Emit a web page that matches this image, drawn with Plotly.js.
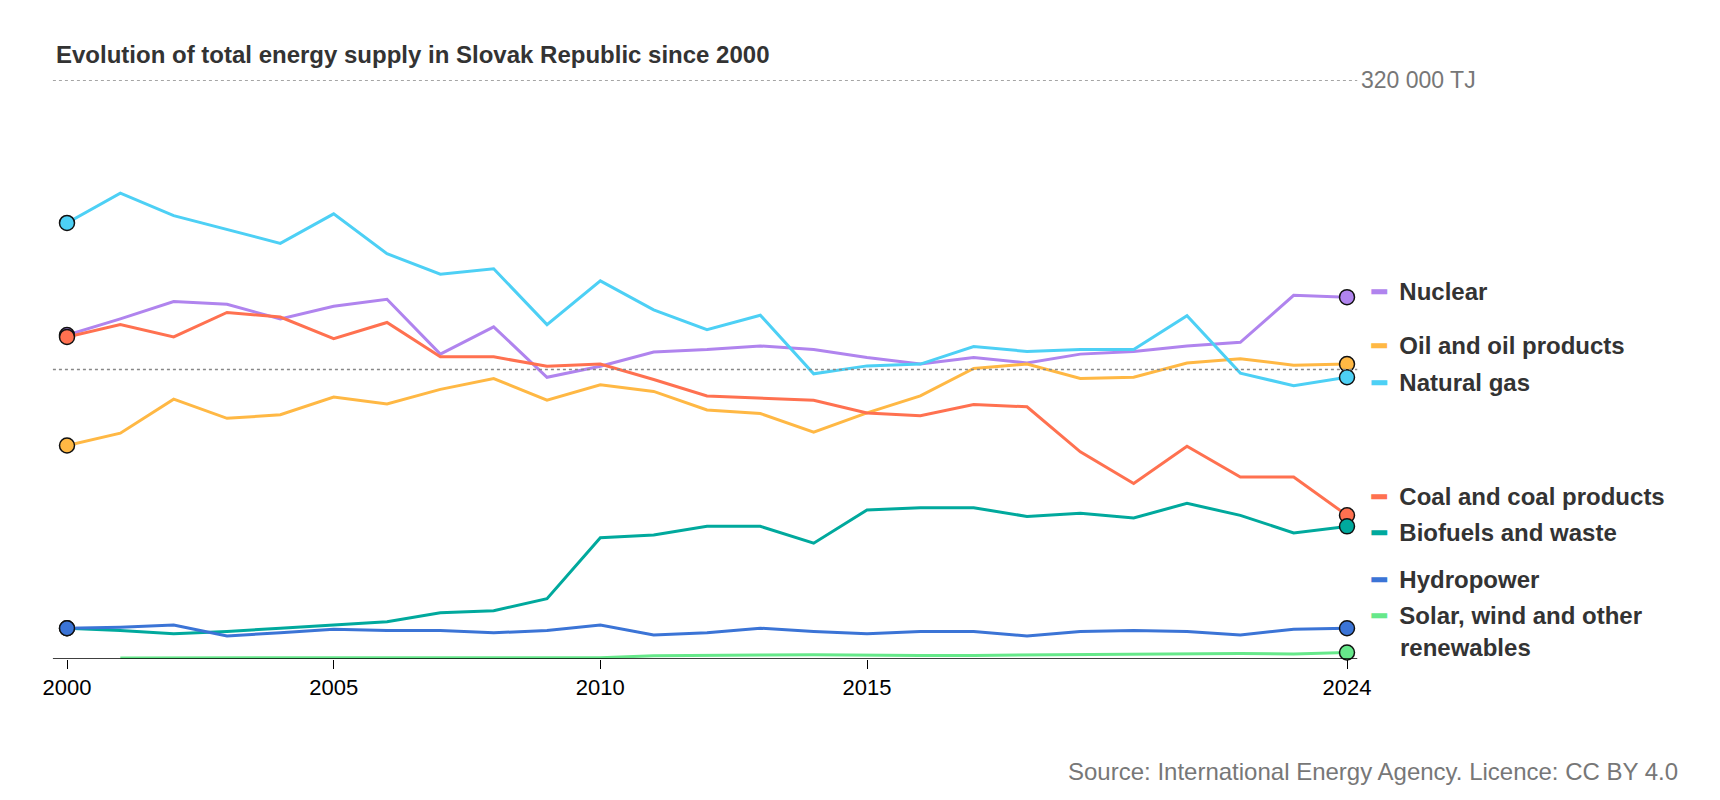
<!DOCTYPE html>
<html>
<head>
<meta charset="utf-8">
<script src="https://cdn.plot.ly/plotly-3.0.1.min.js"></script>
<style>body{margin:0;background:#fff}#chart{width:1720px;height:800px}</style>
</head>
<body>
<div id="chart"></div>
<script>
// Years
var years = [];
for (var y = 2000; y <= 2024; y++) years.push(y);

// Series values (TJ)
var nuclear = [179000,188000,197600,196000,188000,195000,198800,168500,183600,155700,161800,169700,171000,173000,171000,166600,163000,166600,163600,168500,170000,173000,175000,201000,200000];
var oil     = [118000,124800,143600,133000,135000,144800,141000,149000,155000,143000,151500,147900,137600,135700,125400,136000,145400,160600,163000,155000,155700,163600,166000,162400,163000];
var gas     = [241000,257500,245000,237500,229700,246000,224000,212700,215700,184800,209000,193000,182000,190000,157600,162000,163000,172700,170000,171000,171000,189700,158000,151000,155700];
var coal    = [178000,184800,178000,191500,189000,177000,186000,167000,167000,161800,163000,154500,145400,144000,143000,136000,134500,140600,139400,114500,97000,117600,100600,100600,79400];
var biofuel = [17000,15800,14000,15200,17000,18800,20600,25500,26700,33300,67000,68500,73300,73300,64000,82400,83600,83600,78800,80600,78000,86000,79400,69700,73300];
var hydro   = [17000,17600,18800,12700,14500,16400,15800,15800,14500,15800,18800,13300,14500,17000,15200,14000,15200,15200,12700,15200,15800,15200,13300,16400,17000];
var solar   = [null,600,600,600,600,600,600,600,600,600,700,1800,1800,2200,2400,2000,2000,2000,2200,2600,3000,2800,3000,2800,3600];

var series = [
    {name: 'Nuclear', y: nuclear, color: '#b084ee', labelY: 203000},
    {name: 'Oil and oil products', y: oil, color: '#ffb844', labelY: 173000},
    {name: 'Natural gas', y: gas, color: '#4dd0f5', labelY: 153000},
    {name: 'Coal and coal products', y: coal, color: '#ff7150', labelY: 90000},
    {name: 'Biofuels and waste', y: biofuel, color: '#00a99d', labelY: 70000},
    {name: 'Hydropower', y: hydro, color: '#3b74d6', labelY: 44000},
    {name: 'Solar, wind and other', y: solar, color: '#66e88a', labelY: 24000}
];

var labelFont = {family: 'Liberation Sans, Arial', size: 24, color: '#333'};
var data = [];
var annotations = [];
series.forEach(function(s) {
    var sizes = s.y.map(function(v, i) { return (i === 0 || i === s.y.length - 1) ? 15 : 0; });
    data.push({
        x: years, y: s.y, type: 'scatter', mode: 'lines+markers', cliponaxis: false,
        line: {color: s.color, width: 3},
        marker: {size: sizes, color: s.color, opacity: 1, line: {color: '#111', width: 1.5}},
        hoverinfo: 'skip', showlegend: false
    });
    annotations.push({
        x: 1, xref: 'paper', xshift: 22, y: s.labelY, yref: 'y', xanchor: 'left', yanchor: 'middle',
        showarrow: false, align: 'left',
        text: '<span style="color:' + s.color + '"><b>━</b></span>  <b>' + s.name + '</b>',
        font: labelFont
    });
});
// Second line of the renewables label
annotations.push({x: 1, xref: 'paper', xshift: 51, y: 6500, yref: 'y', xanchor: 'left', yanchor: 'middle',
    showarrow: false, text: '<b>renewables</b>', font: labelFont});

// Gridline label
annotations.push({x: 1, xref: 'paper', xshift: 12, y: 320000, yref: 'y', xanchor: 'left', yanchor: 'middle', showarrow: false,
    text: '320 000 TJ', font: {family: 'Liberation Sans, Arial', size: 23, color: '#777'}});

// Source
annotations.push({xref: 'paper', yref: 'paper', x: (1680 - 67) / (1720 - 67 - 373), xanchor: 'right',
    y: -(771 - 659) / (659 - 80), yanchor: 'middle', showarrow: false,
    text: 'Source: International Energy Agency. Licence: CC BY 4.0', font: {family: 'Liberation Sans, Arial', size: 24, color: '#777'}});

var layout = {
    width: 1720, height: 800,
    margin: {l: 67, r: 373, t: 80, b: 141},
    paper_bgcolor: '#fff', plot_bgcolor: '#fff',
    font: {family: 'Liberation Sans, Arial', color: '#000'},
    title: {text: '<b>Evolution of total energy supply in Slovak Republic since 2000</b>', x: 56 / 1720, xanchor: 'left', y: 1 - 55 / 800, yanchor: 'middle',
            font: {size: 24, color: '#333'}},
    xaxis: {range: [2000, 2024], tickvals: [2000, 2005, 2010, 2015, 2024], ticks: 'outside', ticklen: 9, tickcolor: '#000',
            showgrid: false, zeroline: false, showline: false, tickfont: {size: 22, color: '#000'}},
    yaxis: {range: [0, 320000], showgrid: false, zeroline: false, showticklabels: false, fixedrange: true},
    shapes: [
        {type: 'line', xref: 'paper', x0: -0.011, x1: 1.008, yref: 'y', y0: 320000, y1: 320000, line: {color: '#888', width: 1.3, dash: 'dot'}},
        {type: 'line', xref: 'paper', x0: -0.011, x1: 1.008, yref: 'y', y0: 160000, y1: 160000, line: {color: '#888', width: 1.3, dash: 'dot'}},
        {type: 'line', xref: 'paper', x0: -0.011, x1: 1.008, yref: 'y', y0: 0, y1: 0, line: {color: '#000', width: 1.5}}
    ],
    annotations: annotations
};

Plotly.newPlot('chart', data, layout, {displayModeBar: false, staticPlot: true});
</script>
</body>
</html>
